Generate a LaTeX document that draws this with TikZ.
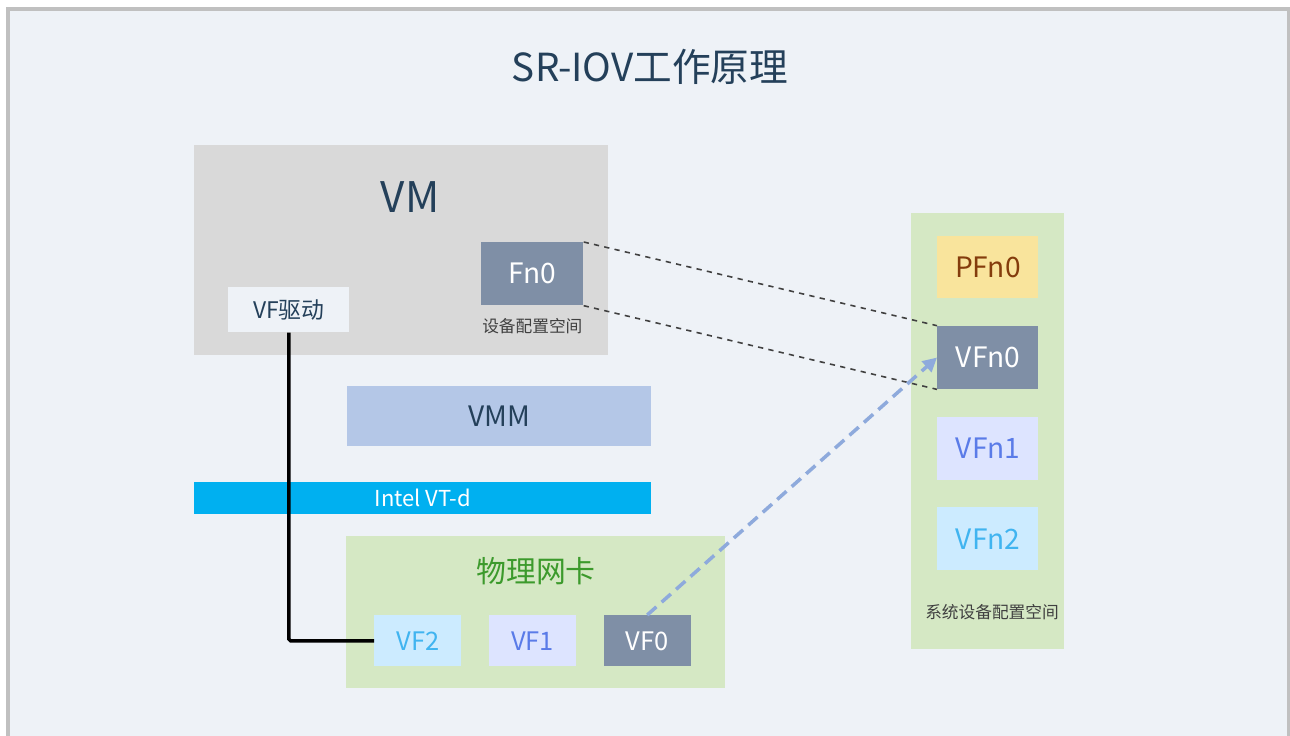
\documentclass[tikz,border=0pt]{standalone}
\usepackage{fontspec}
\setmainfont{Noto Sans CJK SC}
\usepackage{xcolor}
\definecolor{page-bg}{HTML}{EEF2F7}
\definecolor{frame-grey}{HTML}{C0C0C0}
\definecolor{vm-grey}{HTML}{D9D9D9}
\definecolor{slate}{HTML}{7F8FA6}
\definecolor{vmm-blue}{HTML}{B4C7E7}
\definecolor{vtd-cyan}{HTML}{00B0F0}
\definecolor{pale-green}{HTML}{D5E8C4}
\definecolor{pale-yellow}{HTML}{F9E49C}
\definecolor{pale-violet}{HTML}{DDE4FF}
\definecolor{pale-cyan}{HTML}{CCEBFF}
\definecolor{ink}{HTML}{24405A}
\definecolor{nic-green}{HTML}{3C9A2C}
\definecolor{rust}{HTML}{843C0C}
\definecolor{vf-blue}{HTML}{5A7BE8}
\definecolor{vf-cyan}{HTML}{40B4F0}
\definecolor{arrow-blue}{HTML}{8EAADC}
\usepackage{tikz}
\usetikzlibrary{positioning}
\usetikzlibrary{arrows.meta}
\tikzset{area/.style = {inner sep=0, anchor=north west}}
\tikzset{fnbox/.style = {inner sep=0, minimum width=2.02cm, minimum height=1.26cm, font=\fontsize{16}{19}\selectfont}}
\tikzset{vfbox/.style = {inner sep=0, minimum width=1.74cm, minimum height=1.02cm, font=\fontsize{14.5}{17}\selectfont}}
\tikzset{caption/.style = {font=\fontsize{9.5}{11}\selectfont, text=black!75}}
\tikzset{link/.style = {dashed, line width=0.9pt, draw=black!75}}
\tikzset{wire/.style = {line width=2pt, draw=black, rounded corners=1pt}}
\tikzset{arr/.style = {line width=2pt, dash pattern=on 7pt off 4pt, draw=arrow-blue, -{Triangle[length=8pt, width=8pt]}}}

\begin{document}
\begin{tikzpicture}[x=0.02cm, y=0.02cm,
  node distance = .54cm
]
\clip (0,0) rectangle (1290,-736);
\draw[frame-grey, fill=page-bg, line width=0.08cm] (8,-9.5) rectangle (1288.5,-760);

\node[text=ink, font=\fontsize{22}{26}\selectfont] (title) at (650,-67) {SR-IOV工作原理};

% left side: VM, VMM, VT-d, NIC
\node[area, fill=vm-grey, minimum width=8.28cm, minimum height=4.2cm] (vm) at (194,-145) {};
\node[text=ink, font=\fontsize{24}{28}\selectfont] (vmlbl) at (410,-197) {VM};
\node[area, fill=page-bg, minimum width=2.42cm, minimum height=0.9cm, font=\fontsize{13}{15}\selectfont, text=ink] (vfdrv) at (228,-287) {VF驱动};
\node[fnbox, fill=slate, text=white, minimum width=2.04cm, anchor=north west] (fn0) at (481,-242) {Fn0};
\node[caption, below=0.12cm of fn0] (cfg) {设备配置空间};

\node[area, fill=vmm-blue, minimum width=6.08cm, minimum height=1.2cm, font=\fontsize{16}{19}\selectfont, text=ink] (vmm) at (347,-386) {VMM};
\node[area, fill=vtd-cyan, minimum width=9.14cm, minimum height=0.64cm, font=\fontsize{12.5}{15}\selectfont, text=white] (vtd) at (194,-482) {Intel VT-d};

\node[area, fill=pale-green, minimum width=7.58cm, minimum height=3.04cm] (nic) at (346,-536) {};
\node[text=nic-green, font=\fontsize{17}{20}\selectfont] (niclbl) at (536,-571) {物理网卡};
\node[vfbox, fill=pale-cyan, text=vf-cyan, anchor=north west] (vf2) at (374,-615) {VF2};
\node[vfbox, fill=pale-violet, text=vf-blue, right=of vf2] (vf1) {VF1};
\node[vfbox, fill=slate, text=white, right=of vf1] (vf0) {VF0};

% right side: system config space
\node[area, fill=pale-green, minimum width=3.06cm, minimum height=8.72cm] (sys) at (911,-213) {};
\node[fnbox, fill=pale-yellow, text=rust, minimum height=1.24cm, anchor=north west] (pfn0) at (937,-236) {PFn0};
\node[fnbox, fill=slate, text=white, below=of pfn0] (vfn0) {VFn0};
\node[fnbox, fill=pale-violet, text=vf-blue, below=of vfn0] (vfn1) {VFn1};
\node[fnbox, fill=pale-cyan, text=vf-cyan, below=of vfn1] (vfn2) {VFn2};
\node[caption] (syscfg) at (992,-612) {系统设备配置空间};

\draw[wire] (vfdrv.south) |- (vf2.west);
\draw[link] (fn0.north east) -- (vfn0.north west);
\draw[link] (fn0.south east) -- (vfn0.south west);
\draw[arr] (vf0.north) -- (vfn0.west);

\end{tikzpicture}
\end{document}
